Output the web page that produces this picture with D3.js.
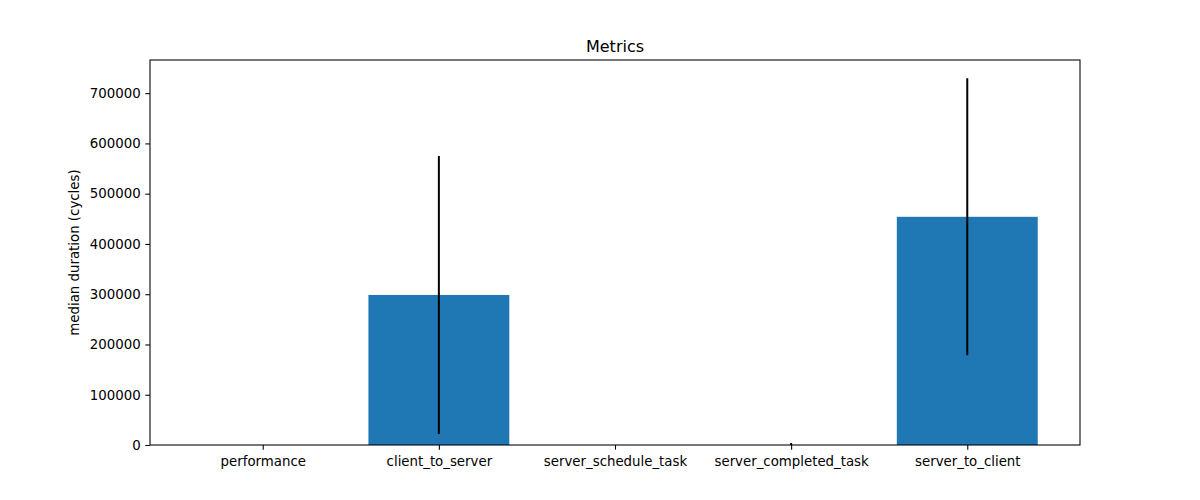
<!DOCTYPE html>
<html>
<head>
<meta charset="utf-8">
<script src="https://cdn.jsdelivr.net/npm/d3@7"></script>
<style>
  html, body { margin: 0; padding: 0; background: #fff; }
  svg { display: block; font-family: "DejaVu Sans", sans-serif; }
</style>
</head>
<body>
<svg id="chart" width="1200" height="500"></svg>
<script>
// ---- data ----
const categories = ["performance", "client_to_server", "server_schedule_task", "server_completed_task", "server_to_client"];
const medians = [0, 298500, 0, 0, 454000];
const errors = [0, 276500, 0, 4000, 275500];
const yTicks = [0, 100000, 200000, 300000, 400000, 500000, 600000, 700000];
const title = "Metrics";
const yLabel = "median duration (cycles)";

// ---- layout ----
const mLeft = 150, mRight = 1080, mTop = 60, mBottom = 445;

const svg = d3.select("#chart");
const rows = categories.map((c, i) => ({ idx: i, cat: c, v: medians[i], e: errors[i] }));

// x: linear over category index, bars of width 0.8, 5% margins
const n = categories.length;
const xMin = -0.4, xMax = (n - 1) + 0.4;
const xPad = (xMax - xMin) * 0.05;
const x = d3.scaleLinear().domain([xMin - xPad, xMax + xPad]).range([mLeft, mRight]);

const dataMax = d3.max(rows, r => r.v + r.e);
const y = d3.scaleLinear().domain([0, dataMax * 1.05]).range([mBottom, mTop]);

// bars
svg.append("g").selectAll("rect").data(rows.filter(r => r.v > 0)).join("rect")
  .attr("x", r => x(r.idx - 0.4))
  .attr("width", r => x(r.idx + 0.4) - x(r.idx - 0.4))
  .attr("y", r => y(r.v))
  .attr("height", r => y(0) - y(r.v))
  .attr("fill", "#1f77b4");

// error bars
svg.append("clipPath").attr("id", "clipAx").append("rect")
  .attr("x", mLeft).attr("y", mTop).attr("width", mRight - mLeft).attr("height", mBottom - mTop);
svg.append("g").attr("clip-path", "url(#clipAx)").selectAll("line").data(rows.filter(r => r.e > 0)).join("line")
  .attr("x1", r => x(r.idx)).attr("x2", r => x(r.idx))
  .attr("y1", r => y(r.v - r.e))
  .attr("y2", r => y(r.v + r.e))
  .attr("stroke", "#000").attr("stroke-width", 2);

// axes
const yAxis = d3.axisLeft(y).tickValues(yTicks).tickFormat(d3.format("d")).tickSize(4.67).tickPadding(4.67);
const gy = svg.append("g").attr("transform", `translate(${mLeft},0)`).call(yAxis);
gy.select(".domain").remove();
gy.selectAll("text").attr("font-size", "13.33px").attr("fill", "#000").attr("font-family", "DejaVu Sans, sans-serif");
gy.selectAll("line").attr("stroke", "#000").attr("stroke-width", 1.07);

const xAxis = d3.axisBottom(x).tickValues(d3.range(n)).tickFormat(i => categories[i]).tickSize(4.67).tickPadding(6.5);
const gx = svg.append("g").attr("transform", `translate(0,${mBottom})`).call(xAxis);
gx.select(".domain").remove();
gx.selectAll("text").attr("font-size", "13.33px").attr("fill", "#000").attr("font-family", "DejaVu Sans, sans-serif");
gx.selectAll("line").attr("stroke", "#000").attr("stroke-width", 1.07);

// spines
svg.append("rect")
  .attr("x", mLeft).attr("y", mTop).attr("width", mRight - mLeft).attr("height", mBottom - mTop)
  .attr("fill", "none").attr("stroke", "#000").attr("stroke-width", 1.07);

// title
svg.append("text").attr("x", (mLeft + mRight) / 2).attr("y", mTop - 8)
  .attr("text-anchor", "middle").attr("font-size", "16px").attr("fill", "#000")
  .text(title);

// y label
svg.append("text")
  .attr("transform", `translate(${79},${(mTop + mBottom) / 2}) rotate(-90)`)
  .attr("text-anchor", "middle").attr("font-size", "13.33px").attr("fill", "#000")
  .text(yLabel);
</script>
</body>
</html>
